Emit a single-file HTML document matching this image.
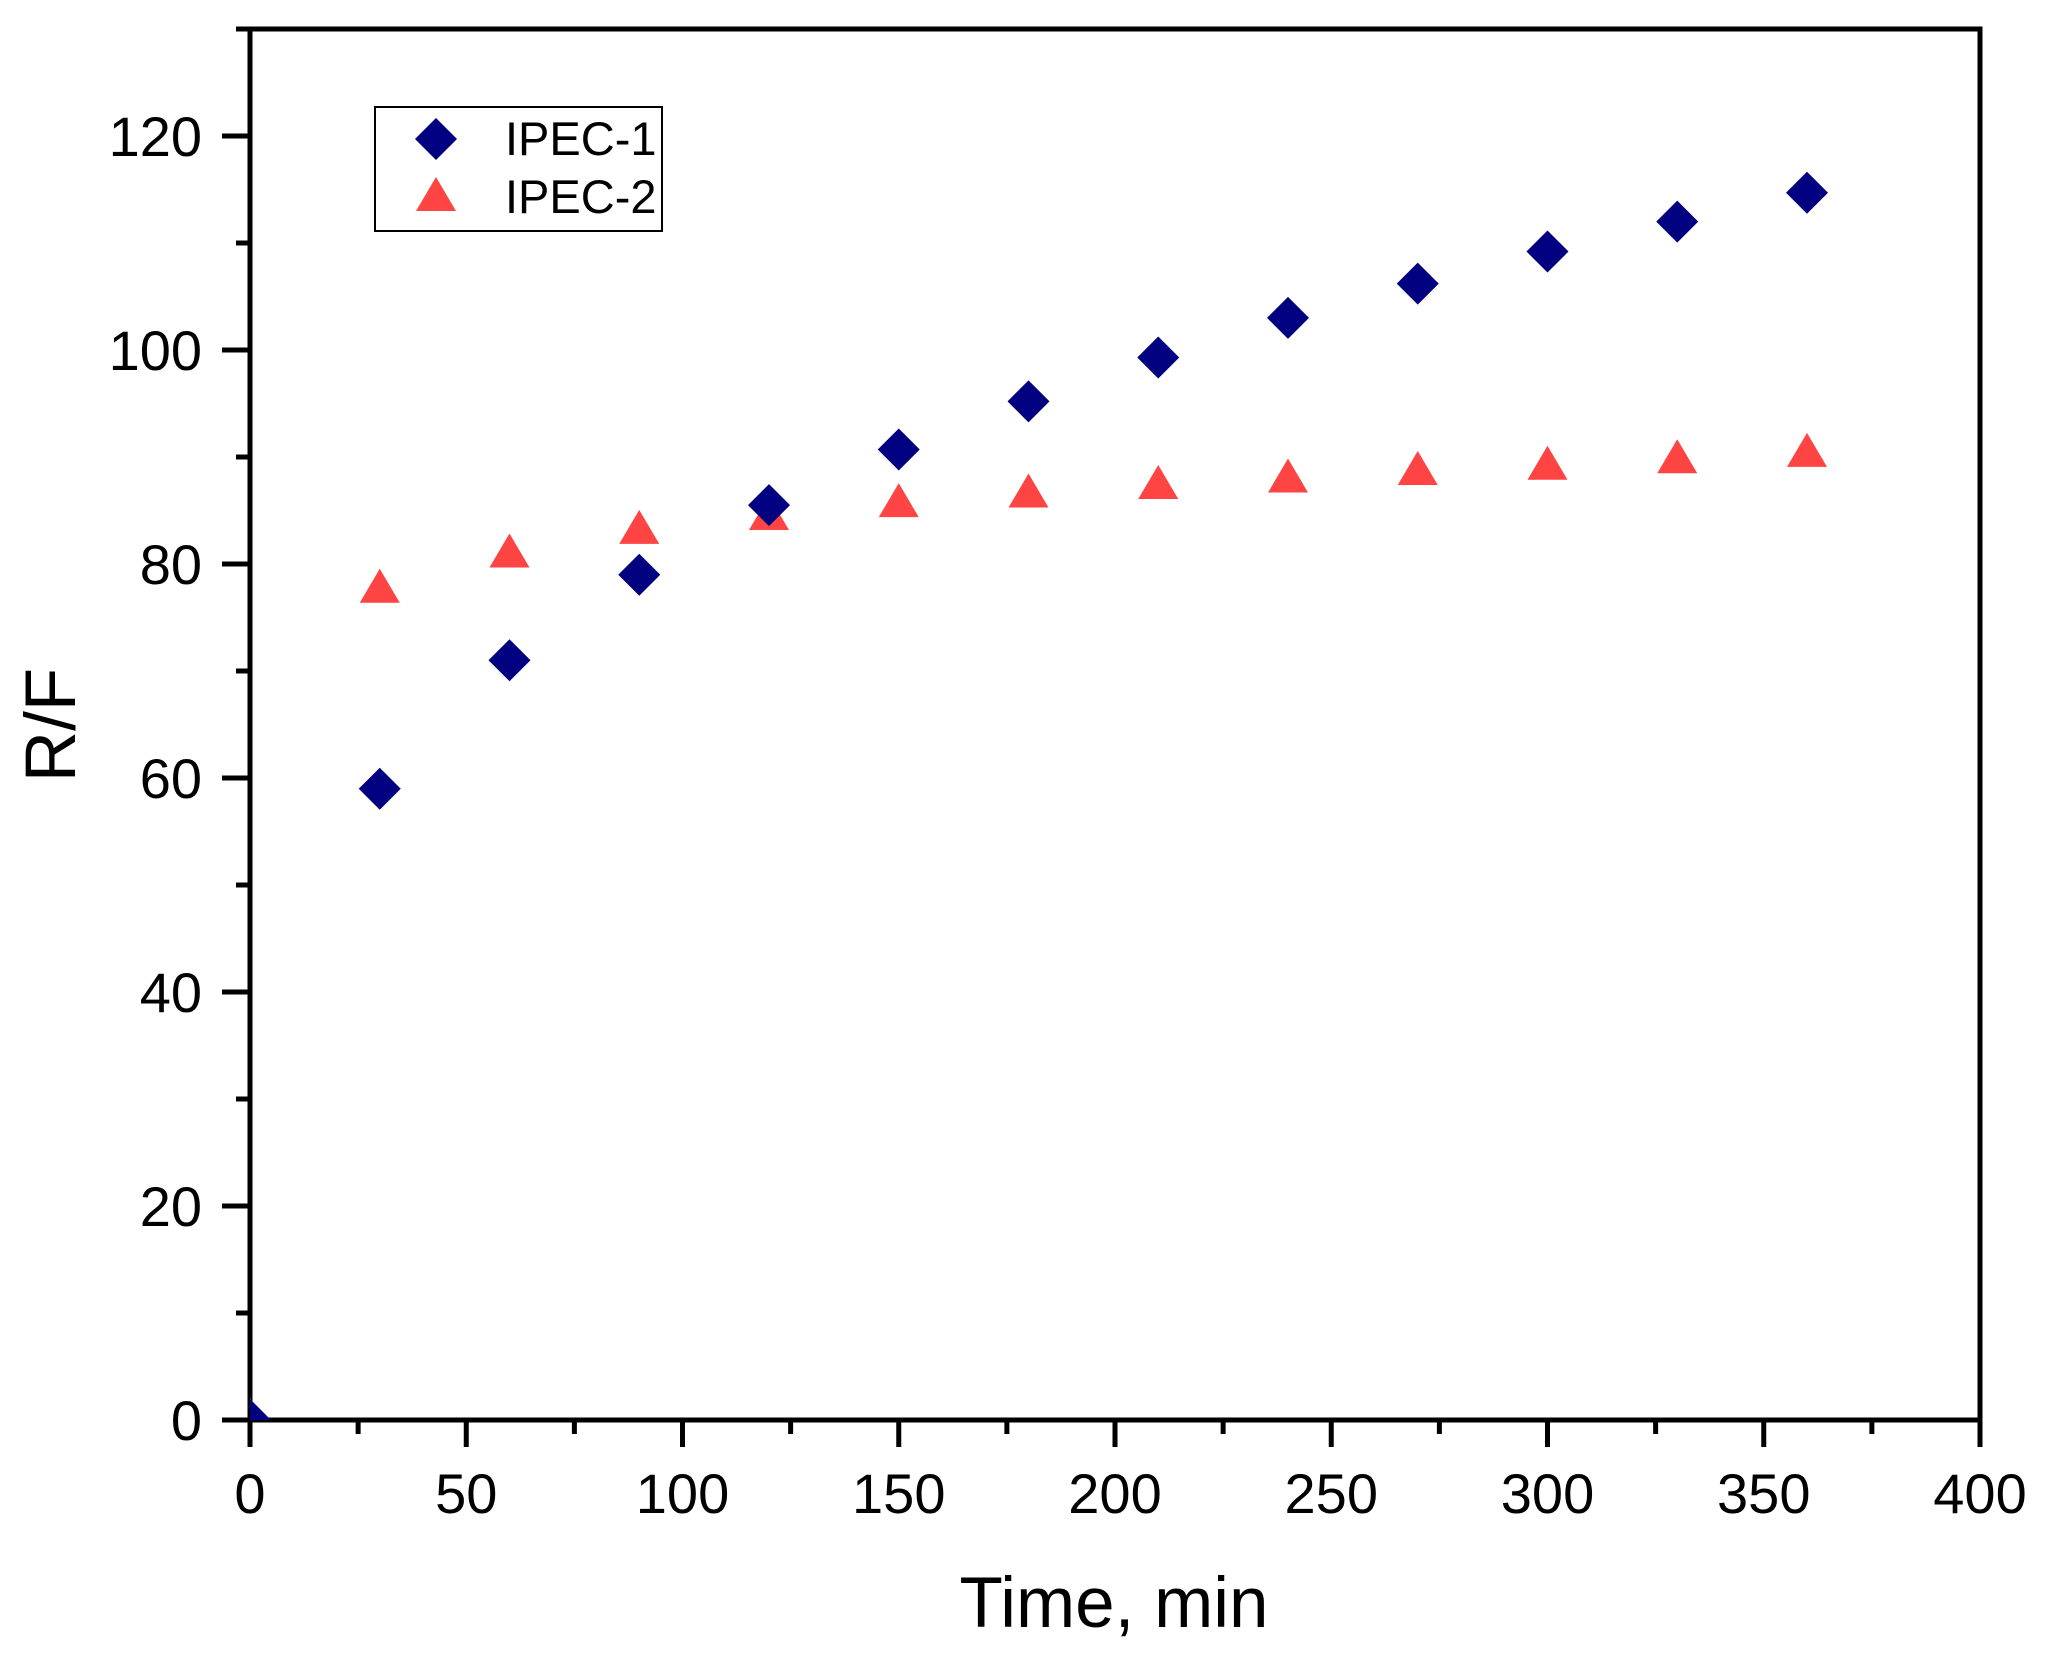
<!DOCTYPE html>
<html><head><meta charset="utf-8"><style>
html,body{margin:0;padding:0;background:#fff;width:2048px;height:1666px;overflow:hidden}
text{font-family:"Liberation Sans",Arial,sans-serif;fill:#000}
</style></head><body>
<svg id="chart" width="2048" height="1666" viewBox="0 0 2048 1666" xmlns="http://www.w3.org/2000/svg">
<defs><clipPath id="plotclip"><rect x="250" y="29" width="1730" height="1391"/></clipPath></defs>
<g id="axes"></g>
<g id="marks" clip-path="url(#plotclip)"></g>
<g id="legend">
 <rect x="375" y="107" width="287" height="124" fill="#fff" stroke="#000" stroke-width="2"/>
 <polygon points="436,118 457,139 436,160 415,139" fill="#000080"/>
 <text x="505" y="155" font-size="47">IPEC-1</text>
 <polygon points="436,177 456,211 416,211" fill="#ff4444"/>
 <text x="505" y="213" font-size="47">IPEC-2</text>
</g>
<text x="1114" y="1627" font-size="71" text-anchor="middle">Time, min</text>
<text transform="translate(75,725) rotate(-90)" font-size="71" text-anchor="middle">R/F</text>
</svg>
<script>
const times = [0,30,60,90,120,150,180,210,240,270,300,330,360];
const ipec1 = [0,59,71,79,85.5,90.7,95.2,99.3,103,106.2,109.2,112,114.7];
const ipec2 = [0,77.5,80.8,83,84.3,85.5,86.4,87.2,87.8,88.5,89,89.6,90.2];
const xTicks = [0,50,100,150,200,250,300,350,400];
const yTicks = [0,20,40,60,80,100,120];
const xMin=0,xMax=400,yMin=0,yMax=130;
const L=250,R=1980,T=29,B=1420;
const NS='http://www.w3.org/2000/svg';
function sx(v){return L+(v-xMin)/(xMax-xMin)*(R-L);}
function sy(v){return B-(v-yMin)/(yMax-yMin)*(B-T);}
function mk(tag,attrs,parent){const e=document.createElementNS(NS,tag);for(const k in attrs)e.setAttribute(k,attrs[k]);parent.appendChild(e);return e;}
const axes=document.getElementById('axes');
const marks=document.getElementById('marks');
const fr=mk('rect',{x:L,y:T,width:R-L,height:B-T,fill:'none',stroke:'#000','stroke-width':5},axes);


for(let i=0;i<xTicks.length;i++){
  const v=xTicks[i];const x=sx(v);
  const t=mk('line',{x1:x,y1:B,x2:x,y2:B+27,stroke:'#000','stroke-width':5},axes);
  
  
  const lb=mk('text',{x:x,y:1513,'font-size':56,'text-anchor':'middle'},axes);lb.textContent=v;
  
  
  if(i<xTicks.length-1){const xm=sx(v+25);
    const m=mk('line',{x1:xm,y1:B,x2:xm,y2:B+14,stroke:'#000','stroke-width':5},axes);
    
    }
}
for(let i=0;i<yTicks.length;i++){
  const v=yTicks[i];const y=sy(v);
  const t=mk('line',{x1:L-28,y1:y,x2:L,y2:y,stroke:'#000','stroke-width':5},axes);
  
  
  const lb=mk('text',{x:202,y:y+20,'font-size':56,'text-anchor':'end'},axes);lb.textContent=v;
  
  
  const ym=sy(v+10);
  const m=mk('line',{x1:L-14,y1:ym,x2:L,y2:ym,stroke:'#000','stroke-width':5},axes);
  
  
}
for(let i=0;i<times.length;i++){
  const x=sx(times[i]),y=sy(ipec2[i]);
  const p=mk('polygon',{points:`${x},${y-22} ${x+20},${y+12} ${x-20},${y+12}`,fill:'#ff4444'},marks);
  
  
}
for(let i=0;i<times.length;i++){
  const x=sx(times[i]),y=sy(ipec1[i]);
  const p=mk('polygon',{points:`${x},${y-21} ${x+21},${y} ${x},${y+21} ${x-21},${y}`,fill:'#000080'},marks);
  
  
}
</script>
</body></html>
